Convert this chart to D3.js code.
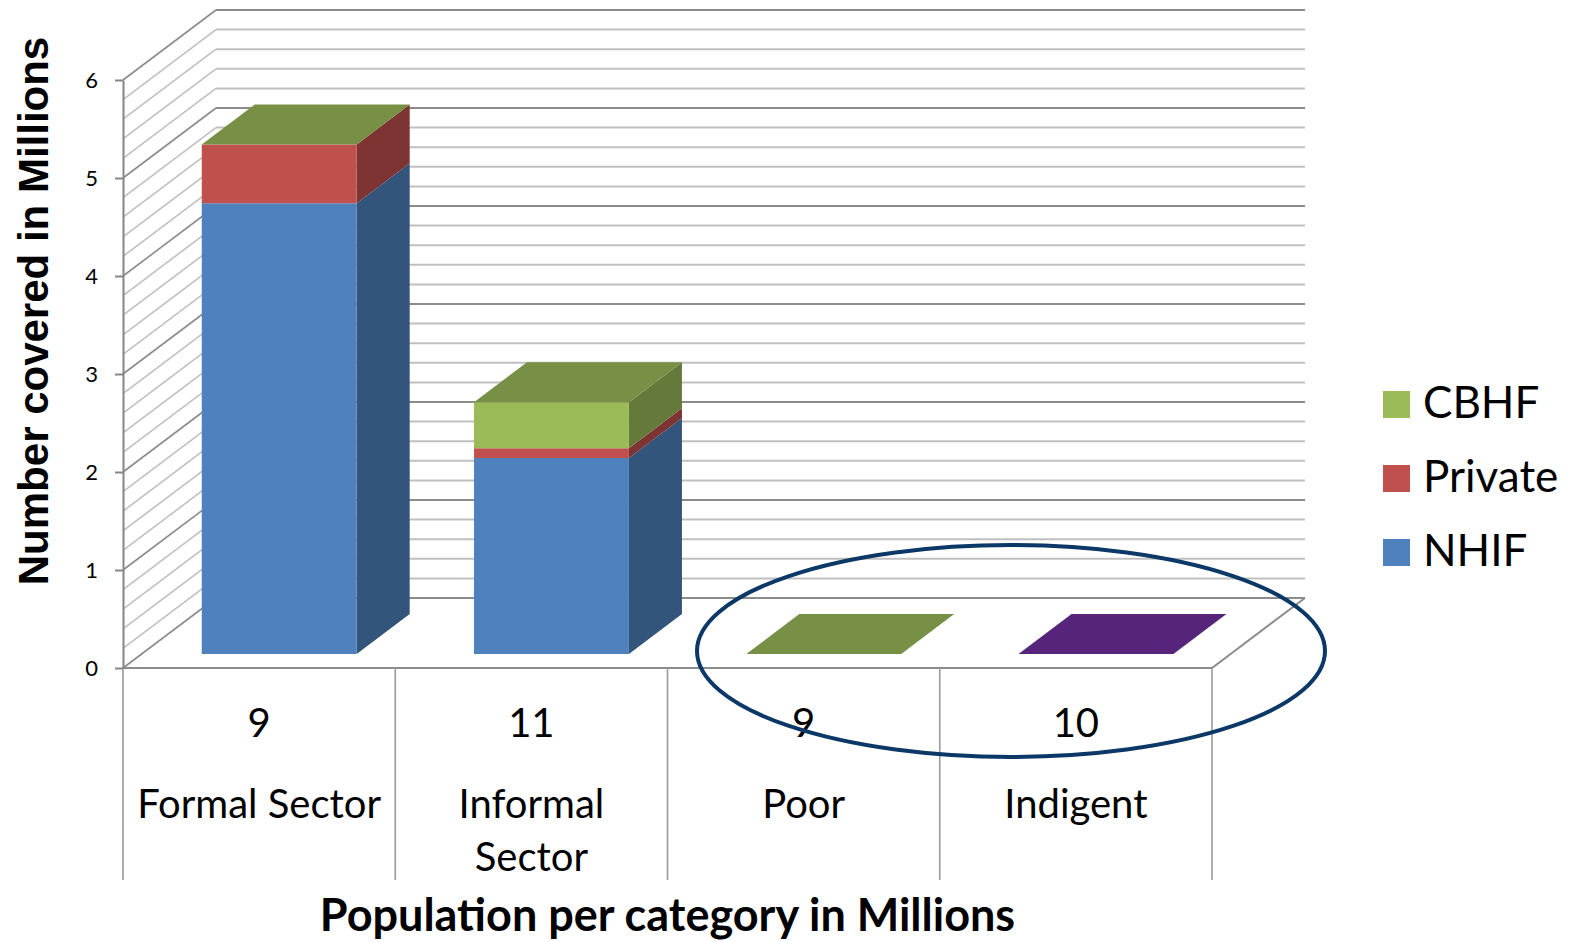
<!DOCTYPE html>
<html>
<head>
<meta charset="utf-8">
<script src="https://cdn.jsdelivr.net/npm/d3@7"></script>
<style>
  body { margin: 0; background: #ffffff; }
  svg { display: block; }
</style>
</head>
<body>
<svg id="chart" width="1569" height="942"></svg>
<script>
// ---- data ----
const categories = ["Formal Sector", "Informal Sector", "Poor", "Indigent"];
const categoryLines = [["Formal Sector"], ["Informal", "Sector"], ["Poor"], ["Indigent"]];
const populations = ["9", "11", "9", "10"];
const seriesNames = ["NHIF", "Private", "CBHF"];
const nhifValues = [4.6, 2.0, 0, 0];
const privateValues = [0.6, 0.1, 0, 0];
const cbhfValues = [0, 0.47, 0, 0];
const yTickValues = [0, 1, 2, 3, 4, 5, 6];

// ---- styles ----
const seriesColors = { NHIF: "#4F81BD", Private: "#C0504D", CBHF: "#9BBB59" };
const topPointColors = [null, null, null, "#7030A0"]; // per-category fill override of the top series
const legendOrder = ["CBHF", "Private", "NHIF"];
const bodyFont = "Lato, 'Open Sans', sans-serif";

const svg = d3.select("#chart");

// ---- scales (front plane + depth offsets for the 3-D look) ----
const x = d3.scaleBand().domain(categories).range([123, 1212]).padding(0);
const y = d3.scaleLinear().domain([0, 6]).range([668, 80]);
const depthX = d3.scaleLinear().domain([0, 1]).range([0, 93]);
const depthY = d3.scaleLinear().domain([0, 1]).range([0, -70]);
const P = (px, v, z) => [px + depthX(z), y(v) + depthY(z)];
const x0 = x.range()[0], x1 = x.range()[1];

const shade = (c, k) => { const r = d3.rgb(c); return d3.rgb(r.r * k, r.g * k, r.b * k).formatHex(); };
const poly = pts => pts.map(p => p.join(",")).join(" ");

// ---- walls: side wall diagonals and back wall horizontals ----
const gridValues = d3.range(0, 31).map(i => ({ v: i / 5, major: i % 5 === 0 }));
const walls = svg.append("g").attr("class", "walls");
gridValues.forEach(d => {
  const col = d.major ? "#8c8c8c" : "#c0c0c0";
  const a = P(x0, d.v, 0), b = P(x0, d.v, 1), c = P(x1, d.v, 1);
  walls.append("line").attr("x1", a[0]).attr("y1", a[1]).attr("x2", b[0]).attr("y2", b[1])
    .attr("stroke", col).attr("stroke-width", 1.6);
  walls.append("line").attr("x1", b[0]).attr("y1", b[1]).attr("x2", c[0]).attr("y2", c[1])
    .attr("stroke", col).attr("stroke-width", 2);
});

// floor edges
const floorFrontL = P(x0, 0, 0), floorFrontR = P(x1, 0, 0), floorBackR = P(x1, 0, 1);
walls.append("polyline")
  .attr("points", poly([floorFrontL, floorFrontR, floorBackR]))
  .attr("fill", "none").attr("stroke", "#8c8c8c").attr("stroke-width", 2);

// category dividers under the floor
const bounds = categories.map(c => x(c)).concat([x1]);
svg.append("g").selectAll("line").data(bounds).join("line")
  .attr("x1", d => d).attr("x2", d => d)
  .attr("y1", y(0)).attr("y2", 880)
  .attr("stroke", "#9a9a9a").attr("stroke-width", 1.6);

// ---- y axis ----
const yAxis = svg.append("g").attr("transform", `translate(${x0},0)`)
  .call(d3.axisLeft(y).tickValues(yTickValues).tickFormat(d3.format("d"))
    .tickSize(8).tickSizeOuter(0).tickPadding(17));
yAxis.select(".domain").attr("stroke", "#868686").attr("stroke-width", 2);
yAxis.selectAll(".tick line").attr("stroke", "#868686").attr("stroke-width", 2);
yAxis.selectAll(".tick text")
  .attr("font-family", bodyFont).attr("font-size", 22).attr("fill", "#000");

// ---- stacked 3-D columns ----
const table = categories.map((c, i) => ({
  category: c, NHIF: nhifValues[i], Private: privateValues[i], CBHF: cbhfValues[i]
}));
const stacked = d3.stack().keys(seriesNames)(table);
const zFront = 0.2, zBack = 0.77;
const bars = svg.append("g").attr("class", "bars");

categories.forEach((c, i) => {
  const bx0 = x(c) + x.bandwidth() * 0.221;
  const bx1 = bx0 + x.bandwidth() * 0.569;
  stacked.forEach(layer => {
    const [v0, v1] = layer[i];
    if (v1 <= v0) return;
    const base = seriesColors[layer.key];
    bars.append("polygon")
      .attr("points", poly([P(bx1, v0, zFront), P(bx1, v0, zBack), P(bx1, v1, zBack), P(bx1, v1, zFront)]))
      .attr("fill", shade(base, 0.65));
    bars.append("polygon")
      .attr("points", poly([P(bx0, v0, zFront), P(bx1, v0, zFront), P(bx1, v1, zFront), P(bx0, v1, zFront)]))
      .attr("fill", base);
  });
  const topLayer = stacked[stacked.length - 1];
  const top = topLayer[i][1];
  const topBase = topPointColors[i] || seriesColors[topLayer.key];
  bars.append("polygon")
    .attr("points", poly([P(bx0, top, zFront), P(bx1, top, zFront), P(bx1, top, zBack), P(bx0, top, zBack)]))
    .attr("fill", shade(topBase, 0.77));
});

// ---- category labels ----
const labels = svg.append("g").attr("font-family", bodyFont).attr("fill", "#000").attr("text-anchor", "middle");
categories.forEach((c, i) => {
  const cx = x(c) + x.bandwidth() / 2;
  labels.append("text").attr("x", cx).attr("y", 737).attr("font-size", 40).text(populations[i]);
  categoryLines[i].forEach((line, j) => {
    labels.append("text").attr("x", cx).attr("y", 818 + j * 53).attr("font-size", 40).text(line);
  });
});

// ---- axis titles ----
svg.append("text")
  .attr("x", (x0 + x1) / 2).attr("y", 931)
  .attr("text-anchor", "middle")
  .attr("font-family", bodyFont).attr("font-weight", "bold").attr("font-size", 45)
  .text("Population per category in Millions");

svg.append("text")
  .attr("transform", "translate(48,311) rotate(-90)")
  .attr("text-anchor", "middle")
  .attr("font-family", "'Liberation Sans', Arial, sans-serif").attr("font-weight", "bold").attr("font-size", 42)
  .text("Number covered in Millions");

// ---- legend ----
const legend = svg.append("g").attr("font-family", bodyFont);
legendOrder.forEach((name, k) => {
  const ly = 391 + k * 74;
  legend.append("rect").attr("x", 1383).attr("y", ly).attr("width", 27).attr("height", 27)
    .attr("fill", seriesColors[name]);
  legend.append("text").attr("x", 1423).attr("y", ly + 27).attr("font-size", 44).text(name);
});

// ---- highlight around the uncovered groups ----
svg.append("ellipse")
  .attr("cx", 1011).attr("cy", 651).attr("rx", 314).attr("ry", 106)
  .attr("fill", "none").attr("stroke", "#0b3866").attr("stroke-width", 4);
</script>
</body>
</html>
